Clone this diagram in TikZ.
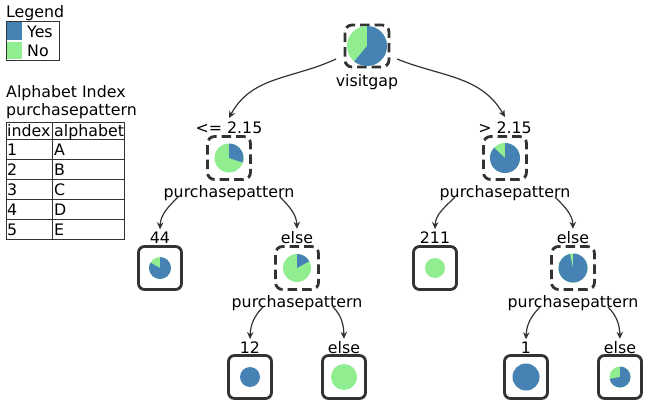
\documentclass[tikz,border=0pt]{standalone}
\usepackage{fontspec}
\setmainfont{DejaVu Sans}
\usetikzlibrary{arrows.meta}
\definecolor{yesblue}{HTML}{4682B4}
\definecolor{nogreen}{HTML}{90EE90}
\definecolor{ink}{HTML}{333333}
\newcommand\mypie[3]{%
  \fill[nogreen] (#1.center) circle[radius=#2pt];
  \fill[yesblue] (#1.center) -- ++(90:#2pt) arc[start angle=90, delta angle=-360*#3, radius=#2pt] -- cycle;}
\newcommand\fullpie[3]{\fill[#3] (#1.center) circle[radius=#2pt];}
\begin{document}
\begin{tikzpicture}[x=1pt,y=-1pt,
  font=\fontsize{15.8}{19}\selectfont,
  lab/.style={inner sep=0pt, anchor=base, text=black},
  labw/.style={inner sep=0pt, anchor=base west, text=black},
  dbox/.style={draw=ink, line width=2.8pt, dash pattern=on 9.5pt off 5pt, dash phase=2pt, rounded corners=7pt, minimum width=43pt, minimum height=43pt, inner sep=0pt},
  sbox/.style={draw=ink, line width=2.8pt, rounded corners=6pt, minimum width=43pt, minimum height=43pt, inner sep=0pt},
  conn/.style={draw=ink, line width=1.2pt, -{Stealth[length=7pt,width=6.5pt]}},
  grid/.style={draw=ink, line width=0.9pt}]
\useasboundingbox (0,0) rectangle (656,415);

% ---------- Legend ----------
\node[labw] (legT) at (6,17) {Legend};
\draw[grid] (6,21) rectangle (59,60);
\fill[yesblue] (7,22) rectangle (22,40);
\fill[nogreen] (7,42) rectangle (22,59);
\node[labw] (legY) at (27,37) {Yes};
\node[labw] (legN) at (27,56) {No};

% ---------- Alphabet index ----------
\node[labw] (aiT) at (6,97) {Alphabet Index};
\node[labw] (aiV) at (6,115) {purchasepattern};
\draw[grid] (6,122) rectangle (124,239);
\draw[grid] (52,122) -- (52,239);
\foreach \yy in {139,159,179,199,219} \draw[grid] (6,\yy) -- (124,\yy);
\node[labw] (th1) at (7,136) {index};
\node[labw] (th2) at (54,136) {alphabet};
\foreach \i/\l/\b in {1/A/155,2/B/175,3/C/195,4/D/215,5/E/235}{
  \node[labw] (ti\i) at (7,\b) {\i};
  \node[labw] (ta\i) at (54,\b) {\l};
}

% ---------- Tree boxes ----------
\node[dbox, minimum width=44pt, minimum height=42pt] (root) at (367,46) {};
\node[lab] (rootV) at (367,86) {visitgap};

\node[lab] (lL) at (229,133) {<= 2.15};
\node[dbox] (L) at (229,158) {};
\node[lab] (LV) at (229,197) {purchasepattern};

\node[lab] (lR) at (505,133) {> 2.15};
\node[dbox] (R) at (505,158) {};
\node[lab] (RV) at (505,197) {purchasepattern};

\node[lab] (lLL) at (160,243) {44};
\node[sbox] (LL) at (160,268) {};

\node[lab] (lLR) at (297,243) {else};
\node[dbox] (LR) at (297,268) {};
\node[lab] (LRV) at (297,307) {purchasepattern};

\node[lab] (lRL) at (435,243) {211};
\node[sbox] (RL) at (435,268) {};

\node[lab] (lRR) at (573,243) {else};
\node[dbox] (RR) at (573,268) {};
\node[lab] (RRV) at (573,307) {purchasepattern};

\node[lab] (lLRL) at (250,353) {12};
\node[sbox] (LRL) at (250,377) {};
\node[lab] (lLRR) at (344,353) {else};
\node[sbox] (LRR) at (344,377) {};

\node[lab] (lRRL) at (526,353) {1};
\node[sbox] (RRL) at (526,377) {};
\node[lab] (lRRR) at (620,353) {else};
\node[sbox] (RRR) at (620,377) {};

% ---------- Pies ----------
\mypie{root}{20}{0.61}
\mypie{L}{14.5}{0.30}
\mypie{R}{15}{0.87}
\mypie{LL}{11}{0.83}
\mypie{LR}{14}{0.17}
\fullpie{RL}{10}{nogreen}
\mypie{RR}{14.5}{0.965}
\fullpie{LRL}{10}{yesblue}
\fullpie{LRR}{13}{nogreen}
\fullpie{RRL}{13.5}{yesblue}
\mypie{RRR}{10.5}{0.72}

% ---------- Connectors ----------
\coordinate (sRootL) at (336,59);
\coordinate (sRootR) at (397,59);
\coordinate (sLL) at (178,197);
\coordinate (sLR) at (280,197);
\coordinate (sRL) at (455,197);
\coordinate (sRR) at (555,197);
\coordinate (sLRL) at (263,307);
\coordinate (sLRR) at (333,307);
\coordinate (sRRL) at (540,307);
\coordinate (sRRR) at (608,307);

\draw[conn] (sRootL) to[out=205,in=62] ([yshift=3pt]lL.north);
\draw[conn] (sRootR) to[out=-22,in=120] ([yshift=4pt]lR.north);
\draw[conn] (sLL) to[out=225,in=88] ([yshift=2pt]lLL.north);
\draw[conn] (sLR) to[out=-45,in=92] ([yshift=2pt]lLR.north);
\draw[conn] (sRL) to[out=225,in=88] ([yshift=2pt]lRL.north);
\draw[conn] (sRR) to[out=-45,in=92] ([yshift=2pt]lRR.north);
\draw[conn] (sLRL) to[out=225,in=88] ([yshift=2pt]lLRL.north);
\draw[conn] (sLRR) to[out=-45,in=92] ([yshift=2pt]lLRR.north);
\draw[conn] (sRRL) to[out=225,in=88] ([yshift=2pt]lRRL.north);
\draw[conn] (sRRR) to[out=-45,in=92] ([yshift=2pt]lRRR.north);
\end{tikzpicture}
\end{document}
